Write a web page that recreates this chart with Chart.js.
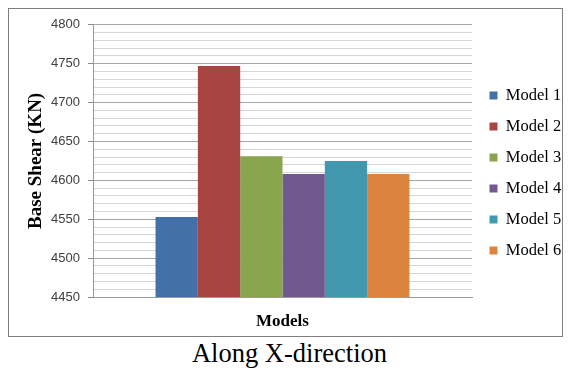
<!DOCTYPE html>
<html>
<head>
<meta charset="utf-8">
<script src="https://cdn.jsdelivr.net/npm/chart.js@4.4.1/dist/chart.umd.min.js"></script>
<style>
  html, body { margin: 0; padding: 0; background: #fff; width: 571px; height: 374px; overflow: hidden; }
  #box { position: absolute; left: 8px; top: 8px; width: 555px; height: 329px; box-sizing: border-box; border: 1px solid #7f7f7f; }
  #c { position: absolute; left: 0; top: 0; }
  #caption { position: absolute; left: 4px; width: 571px; top: 338px; text-align: center; font-family: 'Liberation Serif', 'Times New Roman', serif; font-size: 26.5px; color: #000; }
</style>
</head>
<body>
<div id="box"><canvas id="c" width="562" height="327"></canvas></div>
<div id="caption">Along X-direction</div>
<script>
const categories = [''];
const seriesNames = ['Model 1', 'Model 2', 'Model 3', 'Model 4', 'Model 5', 'Model 6'];
const seriesValues = [4553, 4747, 4631, 4608, 4625, 4608];
const seriesColors = ['#4470a8', '#a84542', '#89a54e', '#71588f', '#4298af', '#db843d'];
const yMin = 4450, yMax = 4800, yStep = 10, yLabelStep = 50;

const SERIF = "'Liberation Serif', 'Times New Roman', serif";

const datasets = seriesNames.map((n, i) => ({
  label: n,
  data: [seriesValues[i]],
  backgroundColor: seriesColors[i],
  borderWidth: 0,
  categoryPercentage: 0.67,
  barPercentage: 1.0
}));

const legendTweak = {
  id: 'legendTweak',
  beforeLayout(chart) {
    const lg = chart.legend;
    if (lg && !lg._patched) {
      const f = lg.fit;
      lg.fit = function () { f.call(this); this.width = 90; };
      lg._patched = true;
    }
  },
  afterLayout(chart) {
    const lg = chart.legend;
    if (lg) { lg.left += 3; lg.right += 3; lg.top -= 7; lg.bottom -= 7; }
  }
};

new Chart(document.getElementById('c'), {
  type: 'bar',
  data: { labels: categories, datasets },
  plugins: [legendTweak],
  options: {
    responsive: false,
    animation: false,
    layout: { padding: { top: 15, right: 9, left: 0, bottom: 0 } },
    plugins: {
      tooltip: { enabled: false },
      legend: {
        position: 'right',
        labels: {
          boxWidth: 8, boxHeight: 8, padding: 14.5,
          color: '#000',
          font: { family: SERIF, size: 16.5 }
        }
      }
    },
    scales: {
      x: {
        ticks: { display: false },
        grid: { display: false },
        border: { color: '#9a9a9a' },
        title: { display: true, text: 'Models', color: '#000', padding: { top: 12 },
                 font: { family: SERIF, size: 17, weight: 'bold' } },
        afterFit: s => { s.height = 39; }
      },
      y: {
        min: yMin, max: yMax,
        ticks: {
          stepSize: yStep,
          autoSkip: false,
          color: '#404040',
          padding: 8,
          font: { family: "'Liberation Sans', Arial, sans-serif", size: 13 },
          callback: v => (v % yLabelStep === 0 ? String(v) : '')
        },
        grid: {
          color: ctx => (ctx.tick && ctx.tick.value % yLabelStep === 0 ? '#a6a6a6' : '#d6d6d6'),
          tickColor: ctx => (ctx.tick && ctx.tick.value % yLabelStep === 0 ? '#8a8a8a' : 'rgba(0,0,0,0)'),
          tickLength: 5
        },
        border: { color: '#9a9a9a' },
        title: { display: true, text: 'Base Shear (KN)', color: '#000', padding: { top: 16, bottom: 0 },
                 font: { family: SERIF, size: 19, weight: 'bold' } },
        afterFit: s => { s.width = 84; }
      }
    }
  }
});
</script>
</body>
</html>
